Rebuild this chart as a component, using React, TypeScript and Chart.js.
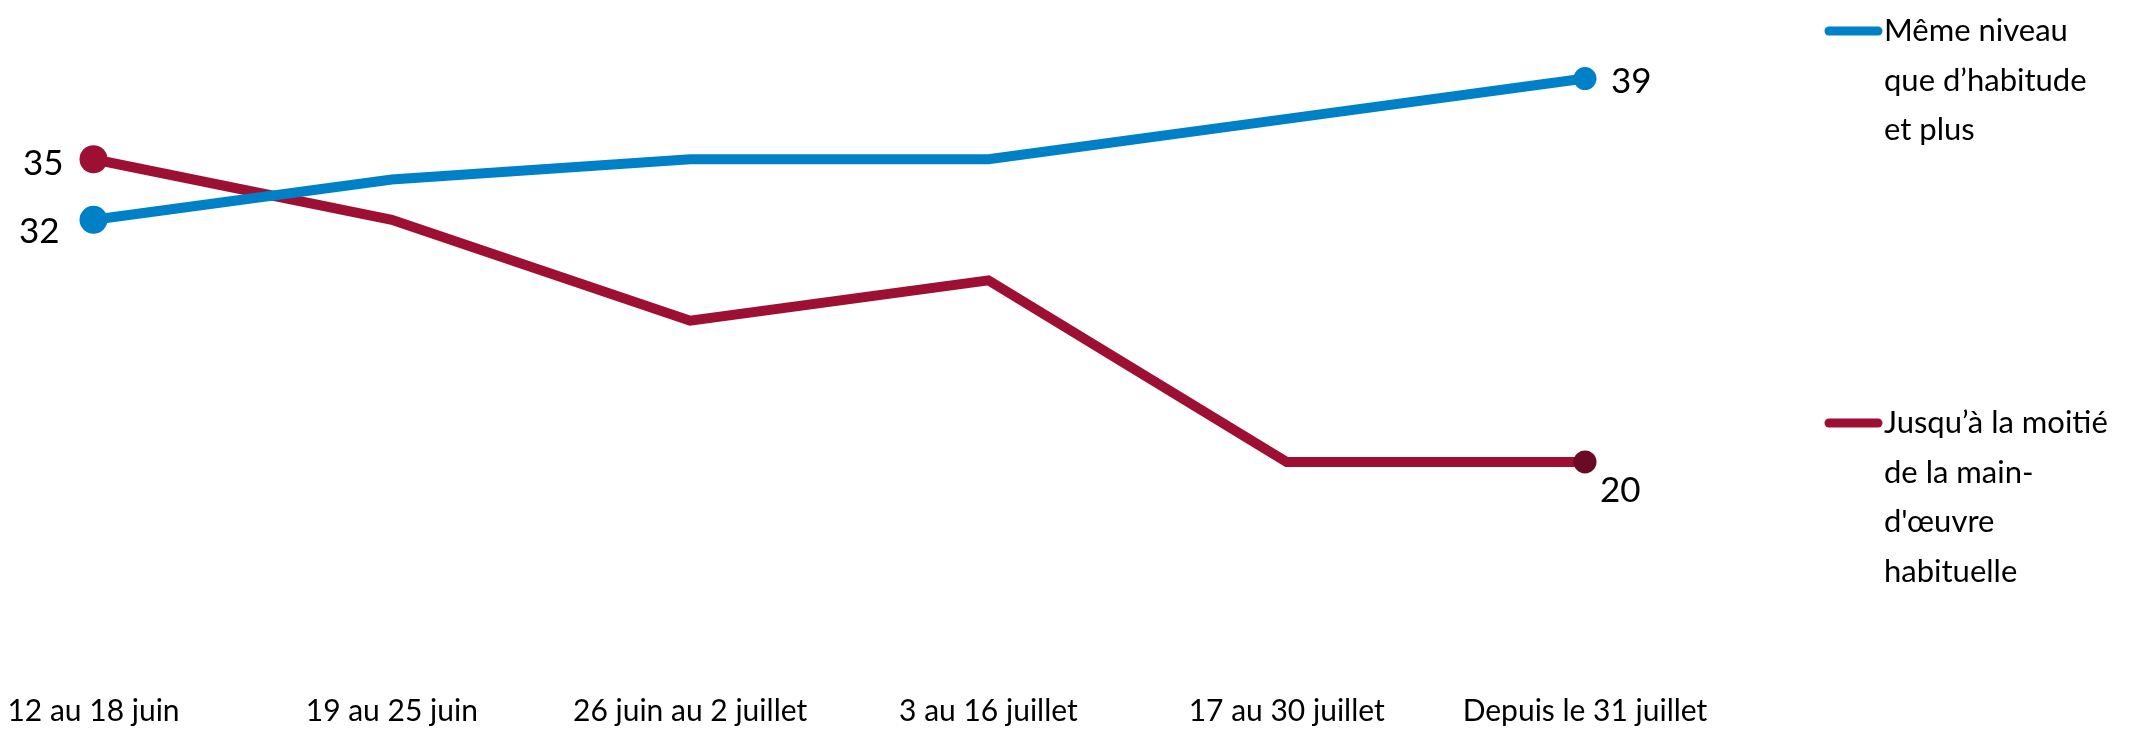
import React, { useEffect, useRef } from "react";
import { Chart, registerables } from "chart.js";

Chart.register(...registerables);

const categories = [
  "12 au 18 juin",
  "19 au 25 juin",
  "26 juin au 2 juillet",
  "3 au 16 juillet",
  "17 au 30 juillet",
  "Depuis le 31 juillet",
];
const sameLevel = [32, 34, 35, 35, 37, 39];
const halfWorkforce = [35, 32, 27, 29, 20, 20];
const seriesNames = ["Même niveau que d’habitude et plus", "Jusqu’à la moitié de la main-d'œuvre habituelle"];
const legendSameLines = ["Même niveau", "que d’habitude", "et plus"];
const legendHalfLines = ["Jusqu’à la moitié", "de la main-", "d'œuvre", "habituelle"];

const BLUE = "#0080C6";
const RED = "#9E0F34";
const DARK_RED = "#6A0A25";
const FONT = "Lato, 'Open Sans', sans-serif";

const overlayPlugin = {
  id: "overlay",
  afterDatasetsDraw(chart: any) {
    const ctx = chart.ctx;
    ctx.save();
    ctx.fillStyle = "#000";
    ctx.font = `35px ${FONT}`;
    ctx.textBaseline = "middle";
    const m0 = chart.getDatasetMeta(0).data;
    const m1 = chart.getDatasetMeta(1).data;
    const last = m0.length - 1;
    // first values (left)
    ctx.textAlign = "right";
    ctx.fillText(String(sameLevel[0]), m0[0].x - 34, m0[0].y + 12);
    ctx.fillText(String(halfWorkforce[0]), m1[0].x - 30, m1[0].y + 4);
    // last values (right)
    ctx.textAlign = "left";
    ctx.fillText(String(sameLevel[last]), m0[last].x + 26, m0[last].y + 3);
    ctx.fillText(String(halfWorkforce[last]), m1[last].x + 15, m1[last].y + 29);

    // legend
    const drawLegend = (lines: string[], color: string, y0: number) => {
      ctx.strokeStyle = color;
      ctx.lineWidth = 9;
      ctx.lineCap = "round";
      ctx.beginPath();
      ctx.moveTo(1829, y0);
      ctx.lineTo(1878, y0);
      ctx.stroke();
      ctx.fillStyle = "#000";
      ctx.font = `31px ${FONT}`;
      ctx.textAlign = "left";
      ctx.textBaseline = "middle";
      lines.forEach((l, i) => ctx.fillText(l, 1884, y0 + i * 49.5));
    };
    drawLegend(legendSameLines, BLUE, 31);
    drawLegend(legendHalfLines, RED, 423);
    ctx.restore();
  },
};

export default function App() {
  const ref = useRef<HTMLCanvasElement | null>(null);
  useEffect(() => {
    if (!ref.current) return;
    const lastIdx = categories.length - 1;
    const radius = (c: any) => (c.dataIndex === 0 ? 14 : c.dataIndex === lastIdx ? 11.5 : 0);
    const chart = new Chart(ref.current, {
      type: "line",
      data: {
        labels: categories,
        datasets: [
          {
            label: seriesNames[0],
            data: sameLevel,
            borderColor: BLUE,
            backgroundColor: BLUE,
            borderWidth: 10,
            pointRadius: radius,
            pointBackgroundColor: BLUE,
            pointBorderWidth: 0,
            tension: 0,
            clip: false as any,
          },
          {
            label: seriesNames[1],
            data: halfWorkforce,
            borderColor: RED,
            backgroundColor: RED,
            borderWidth: 10,
            pointRadius: radius,
            pointBackgroundColor: (c: any) => (c.dataIndex === lastIdx ? DARK_RED : RED),
            pointBorderWidth: 0,
            tension: 0,
            clip: false as any,
          },
        ],
      },
      options: {
        responsive: false,
        animation: false,
        devicePixelRatio: 1,
        layout: { padding: { left: 93.5, right: 571, top: 18, bottom: 0 } },
        plugins: {
          legend: { display: false },
          tooltip: { enabled: false },
        },
        scales: {
          x: {
            offset: false,
            grid: { display: false, drawTicks: false },
            border: { display: false },
            ticks: {
              color: "#000",
              font: { family: FONT, size: 30 },
              padding: 110,
              maxRotation: 0,
              autoSkip: false,
            },
            afterFit: (s: any) => {
              s.height = 147;
              s.paddingLeft = 0;
              s.paddingRight = 0;
            },
          },
          y: {
            display: false,
            min: 14,
            max: 42,
          },
        },
      },
      plugins: [overlayPlugin],
    });
    return () => chart.destroy();
  }, []);
  return (
    <div style={{ position: "fixed", left: 0, top: 0, width: 2156, height: 730, background: "#fff" }}>
      <canvas ref={ref} width={2156} height={730} />
    </div>
  );
}
